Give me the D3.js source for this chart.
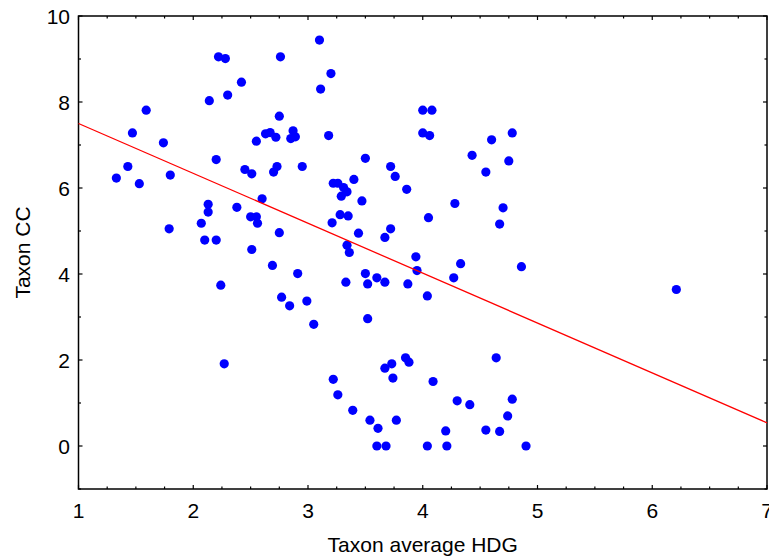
<!DOCTYPE html>
<html>
<head>
<meta charset="utf-8">
<script src="https://cdn.jsdelivr.net/npm/d3@7"></script>
<style>
  html, body { margin: 0; padding: 0; background: #fff; }
  svg { display: block; }
  text { font-family: "Liberation Sans", Arial, sans-serif; fill: #000; }
</style>
</head>
<body>
<svg id="chart" width="769" height="559"></svg>
<script>
// ---- data ----
const hdg = [
  1.33, 1.43, 1.47, 1.53, 1.59, 1.74, 1.80, 1.79, 2.07, 2.13,
  2.13, 2.10, 2.20, 2.14, 2.20, 2.22, 2.28, 2.30, 2.24, 2.27,
  2.38, 2.42, 2.45, 2.51, 2.51, 2.55, 2.50, 2.55, 2.56, 2.60,
  2.63, 2.67, 2.72, 2.73, 2.70, 2.75, 2.76, 2.75, 2.69, 2.77,
  2.84, 2.87, 2.85, 2.89, 2.91, 2.95, 2.99, 3.05, 3.10, 3.11,
  3.20, 3.18, 3.21, 3.22, 3.26, 3.31, 3.34, 3.29, 3.28, 3.35,
  3.40, 3.47, 3.44, 3.34, 3.36, 3.33, 3.50, 3.52, 3.60, 3.67,
  3.67, 3.72, 3.50, 3.72, 3.76, 3.86, 3.52, 3.22, 3.26, 3.39,
  3.54, 3.61, 3.60, 3.68, 3.67, 3.73, 3.85, 3.88, 3.74, 3.77,
  4.00, 4.08, 4.00, 4.06, 4.05, 3.94, 3.95, 3.87, 4.04, 4.09,
  4.04, 4.21, 4.20, 4.30, 4.41, 4.55, 4.67, 4.78, 4.74, 4.90,
  4.64, 4.28, 4.43, 4.60, 4.78, 4.55, 4.75, 4.70, 4.67, 4.33,
  4.27, 4.86, 6.21
];
const cc = [
  6.23, 6.50, 7.28, 6.10, 7.81, 7.05, 6.30, 5.05, 5.18, 5.62,
  5.44, 4.79, 4.79, 8.03, 6.66, 9.05, 9.01, 8.16, 3.74, 1.91,
  5.55, 8.46, 6.43, 6.33, 4.57, 7.09, 5.33, 5.33, 5.18, 5.75,
  7.26, 7.29, 7.18, 6.50, 6.37, 7.67, 9.05, 4.96, 4.20, 3.46,
  3.26, 7.33, 7.15, 7.19, 4.01, 6.50, 3.37, 2.83, 9.44, 8.30,
  8.66, 7.22, 5.19, 6.11, 6.11, 6.01, 5.91, 5.81, 5.38, 5.35,
  6.20, 5.70, 4.95, 4.67, 4.50, 3.81, 4.01, 3.77, 3.91, 3.81,
  4.85, 5.05, 6.69, 6.50, 6.27, 5.97, 2.96, 1.55, 1.19, 0.83,
  0.60, 0.41, 0.00, 0.00, 1.81, 1.91, 2.05, 1.95, 1.58, 0.60,
  7.81, 7.81, 7.28, 7.22, 5.31, 4.40, 4.08, 3.77, 3.49, 1.50,
  0.00, 0.00, 0.35, 1.05, 0.96, 0.37, 0.34, 1.09, 0.70, 0.00,
  2.05, 5.64, 6.76, 7.12, 7.28, 6.37, 6.63, 5.54, 5.16, 4.24,
  3.91, 4.17, 3.64
];
const fitX = [1, 7];
const fitY = [7.50, 0.54];
const xTicks = [1, 2, 3, 4, 5, 6, 7];
const yTicks = [0, 2, 4, 6, 8, 10];
const xTitle = "Taxon average HDG";
const yTitle = "Taxon CC";

// ---- layout ----
const svg = d3.select("#chart");
const pL = 78.5, pR = 767, pT = 16, pB = 489;
const x = d3.scaleLinear().domain([1, 7]).range([pL, pR]);
const y = d3.scaleLinear().domain([-1, 10]).range([pB, pT]);

const g = svg.append("g");

const xMinor = d3.range(1, 7.0001, 0.25);
const yMinor = d3.range(-1, 10.0001, 1);

function tickLines(vals, isX, isMajorFn) {
  vals.forEach(v => {
    const len = isMajorFn(v) ? 4 : 2.5;
    if (isX) {
      const px = x(v);
      g.append("line").attr("x1", px).attr("x2", px).attr("y1", pB).attr("y2", pB - len)
        .attr("stroke", "#000").attr("stroke-width", 1.2);
      g.append("line").attr("x1", px).attr("x2", px).attr("y1", pT).attr("y2", pT + len)
        .attr("stroke", "#000").attr("stroke-width", 1.2);
    } else {
      const py = y(v);
      g.append("line").attr("x1", pL).attr("x2", pL + len).attr("y1", py).attr("y2", py)
        .attr("stroke", "#000").attr("stroke-width", 1.2);
      g.append("line").attr("x1", pR).attr("x2", pR - len).attr("y1", py).attr("y2", py)
        .attr("stroke", "#000").attr("stroke-width", 1.2);
    }
  });
}
tickLines(xMinor, true, v => Math.abs(v - Math.round(v)) < 1e-6);
tickLines(yMinor, false, v => yTicks.includes(v));

// frame
g.append("rect").attr("x", pL).attr("y", pT).attr("width", pR - pL).attr("height", pB - pT)
  .attr("fill", "none").attr("stroke", "#000").attr("stroke-width", 1.5);

// tick labels
g.selectAll(".xl").data(xTicks).enter().append("text")
  .attr("x", d => x(d)).attr("y", 518)
  .attr("text-anchor", "middle").attr("font-size", 21)
  .text(d => d);
g.selectAll(".yl").data(yTicks).enter().append("text")
  .attr("x", 70).attr("y", d => y(d)).attr("dy", "0.36em")
  .attr("text-anchor", "end").attr("font-size", 21)
  .text(d => d);

// axis titles
g.append("text").attr("x", (pL + pR) / 2).attr("y", 552)
  .attr("text-anchor", "middle").attr("font-size", 21).text(xTitle);
g.append("text").attr("transform", `translate(30,${(pT + pB) / 2}) rotate(-90)`)
  .attr("text-anchor", "middle").attr("font-size", 21).text(yTitle);

// points
const pts = hdg.map((d, i) => ({ x: d, y: cc[i] }));
g.selectAll(".pt").data(pts).enter().append("circle")
  .attr("cx", d => x(d.x)).attr("cy", d => y(d.y)).attr("r", 4.6)
  .attr("fill", "#0000ff");

// fit line
const line = d3.line().x(d => x(d[0])).y(d => y(d[1]));
g.append("path").datum(fitX.map((v, i) => [v, fitY[i]]))
  .attr("d", line).attr("fill", "none").attr("stroke", "#ff0000").attr("stroke-width", 1.3);
</script>
</body>
</html>
